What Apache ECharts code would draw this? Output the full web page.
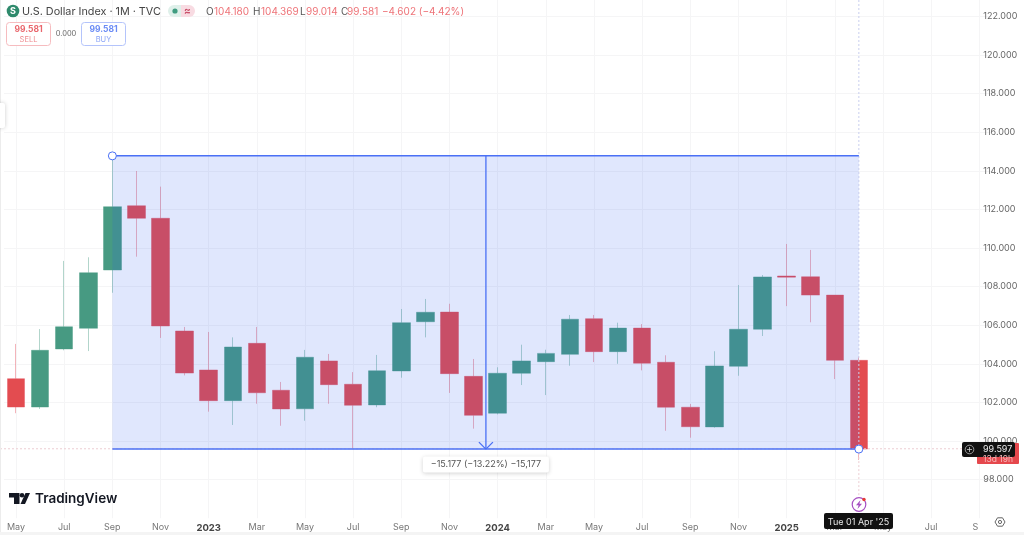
<!DOCTYPE html>
<html><head><meta charset="utf-8">
<style>html,body{margin:0;padding:0;background:#fff}#c{width:1024px;height:535px}</style>
<script src="https://cdn.jsdelivr.net/npm/echarts@6/dist/echarts.min.js"></script>
</head><body><div id="c"></div>
<script>
const months = ['2022-05','2022-06','2022-07','2022-08','2022-09','2022-10','2022-11','2022-12',
 '2023-01','2023-02','2023-03','2023-04','2023-05','2023-06','2023-07','2023-08','2023-09','2023-10','2023-11','2023-12',
 '2024-01','2024-02','2024-03','2024-04','2024-05','2024-06','2024-07','2024-08','2024-09','2024-10','2024-11','2024-12',
 '2025-01','2025-02','2025-03','2025-04','2025-05','2025-06','2025-07','2025-08','2025-09'];
const tickLabels = ['May','Jun','Jul','Aug','Sep','Oct','Nov','Dec',
 '2023','Feb','Mar','Apr','May','Jun','Jul','Aug','Sep','Oct','Nov','Dec',
 '2024','Feb','Mar','Apr','May','Jun','Jul','Aug','Sep','Oct','Nov','Dec',
 '2025','Feb','Mar','Apr','May','Jun','Jul','Aug','S   '];
const opens  = [103.23,101.76,104.77,105.84,108.86,112.19,111.54,105.70,103.68,102.09,105.06,102.63,101.67,104.15,102.94,101.87,103.63,106.18,106.68,103.35,101.44,103.51,104.11,104.49,106.34,104.63,105.85,104.08,101.75,100.73,103.87,105.79,108.55,108.51,107.56,104.18];
const closes = [101.76,104.70,105.92,108.72,112.14,111.54,105.96,103.52,102.09,104.87,102.50,101.66,104.34,102.92,101.85,103.64,106.13,106.67,103.49,101.33,103.51,104.15,104.54,106.31,104.63,105.85,104.03,101.75,100.74,103.89,105.79,108.50,108.49,107.56,104.18,99.581];
const lows   = [101.44,101.66,104.70,104.66,107.68,109.55,105.34,103.40,101.52,100.83,101.93,100.79,101.05,101.93,99.60,101.75,103.28,105.37,102.49,100.64,101.38,102.90,102.38,103.90,104.09,104.00,103.66,100.53,100.17,100.69,103.38,105.44,106.99,106.15,103.21,99.014];
const highs  = [105.03,105.80,109.33,109.52,114.78,113.99,113.18,105.91,105.65,105.37,105.91,103.06,104.72,104.51,103.57,104.46,106.84,107.36,107.11,104.25,103.82,104.99,104.73,106.53,106.53,106.13,106.06,104.44,101.92,104.65,108.08,108.60,110.21,109.90,107.56,104.369];
const priceTicks = [98,100,102,104,106,108,110,112,114,116,118,120,122];
const measureStart = 4, measureEnd = 35;
const measureTop = 114.774, measureBottom = 99.581, crossPrice = 99.597;
const measureText = '\u221215.177 (\u221213.22%) \u221215,177';

const FONT = 'Inter, "Noto Sans", sans-serif';
const BLUE = '#4a70f5';
const candles = opens.map((o,i)=>[o,closes[i],lows[i],highs[i]]);

function txt(x,y,t,fill,size,extra){
  return {type:'text',z:100,x,y,silent:true,style:Object.assign({text:t,fill,font:(size||10)+'px '+FONT,textVerticalAlign:'middle'},extra||{})};
}
function box(x,y,w,h,fill,stroke,r,extra){
  return {type:'rect',z:99,silent:true,shape:{x,y,width:w,height:h,r:r||0},style:Object.assign({fill:fill||'transparent',stroke:stroke||null,lineWidth:1},extra||{})};
}
function renderOverlay(params, api){
  const x0 = api.coord([measureStart, measureTop]);
  const x1 = api.coord([measureEnd, measureBottom]);
  const a = api.coord([19, measureTop])[0], b = api.coord([20, measureTop])[0];
  const mid = (a+b)/2 + 0.3;
  const cross = api.coord([measureEnd, crossPrice]);
  const L = (p1,p2,c,w,d,z)=>({type:'line',silent:true,z2:z||1,shape:{x1:p1[0],y1:p1[1],x2:p2[0],y2:p2[1]},style:{stroke:c,lineWidth:w,lineDash:d||null}});
  const C = (p)=>({type:'circle',z2:5,shape:{cx:p[0],cy:p[1],r:4},style:{fill:'#fff',stroke:BLUE,lineWidth:1}});
  const ly = x1[1]+15.5;
  return {type:'group',children:[
    L([0,cross[1]],[962,cross[1]],'#eccdd2',1,[2,2]),
    L([x1[0],0],[x1[0],x1[1]],'#c9cfee',1,[2,2]),
    L([x1[0],x1[1]],[x1[0],497],'#eccdd2',1,[2,2]),
    {type:'rect',z2:0,shape:{x:x0[0],y:x0[1],width:x1[0]-x0[0],height:x1[1]-x0[1]},style:{fill:'rgba(44,88,240,0.145)'}},
    L([x0[0],x0[1]],[x1[0],x0[1]],BLUE,1.5),
    L([x0[0],x1[1]],[x1[0],x1[1]],BLUE,1.5),
    L([mid,x0[1]],[mid,x1[1]],BLUE,1.3),
    L([mid-7,x1[1]-7],[mid,x1[1]],BLUE,1.3),
    L([mid+7,x1[1]-7],[mid,x1[1]],BLUE,1.3),
    C([x0[0],x0[1]]), C([x1[0],x1[1]]),
    {type:'rect',z2:6,shape:{x:mid-63,y:ly-8,width:126,height:16,r:2},style:{fill:'#fff',shadowBlur:4,shadowColor:'rgba(0,0,0,0.18)',shadowOffsetY:1}},
    {type:'text',z2:7,x:mid,y:ly,style:{text:measureText,fill:'#555',font:'9px '+FONT,textAlign:'center',textVerticalAlign:'middle'}}
  ]};
}
const chart = echarts.init(document.getElementById('c'),null,{renderer:'canvas'});
chart.setOption({
  animation:false,
  backgroundColor:'#fff',
  grid:{left:4,width:987.3,top:0,height:518.2,containLabel:false},
  xAxis:{type:'category',data:months,boundaryGap:true,
    axisLine:{show:false},axisTick:{show:false},
    splitLine:{show:true,interval:1,alignWithLabel:true,lineStyle:{color:'#f5f5f6',width:1}},
    axisLabel:{interval:1,margin:5,color:'#777',fontFamily:FONT,fontSize:9,
      formatter:(v,i)=>/^20/.test(tickLabels[i])?'{y|'+tickLabels[i]+'}':tickLabels[i],
      rich:{y:{fontWeight:'bold',color:'#444',fontSize:9.5,fontFamily:FONT}}}},
  yAxis:{type:'value',position:'right',min:96,max:122.85,interval:2,
    axisLine:{show:false},axisTick:{show:false},
    splitLine:{show:true,showMinLine:false,showMaxLine:false,lineStyle:{color:'#f5f5f6',width:1}},
    axisLabel:{inside:false,margin:-8,align:'left',color:'#666',fontFamily:FONT,fontSize:9,
      showMinLabel:false,showMaxLabel:false,
      formatter:v=>priceTicks.includes(v)?v.toFixed(3):''}},
  series:[
    {type:'candlestick',z:2,data:candles,barWidth:18,silent:true,
      itemStyle:{color:'#479a82',color0:'#e34c50',borderColor:'rgba(71,154,130,0.42)',borderColor0:'rgba(227,76,90,0.42)',borderWidth:1}},
    {type:'custom',z:5,silent:true,clip:false,coordinateSystem:'cartesian2d',data:[[measureStart,measureTop]],renderItem:renderOverlay}
  ],
  graphic:[
    box(0,0,1,535,'#ececec'), box(0,532,1024,3,'#f4f4f4'),
    box(-2,103,7,25,'#fff',null,2,{shadowBlur:4,shadowColor:'rgba(0,0,0,0.2)'}),
    {type:'circle',z:99,silent:true,shape:{cx:13,cy:11,r:6.3},style:{fill:'#2f8a6c'}},
    txt(13,11.3,'S','#fff',9,{textAlign:'center',font:'bold 9px '+FONT}),
    txt(22,11.5,'U.S. Dollar Index \u00b7 1M \u00b7 TVC','#444',10.8),
    box(168,5,13,12,'#dff0ea',null,[6,0,0,6]), box(181,5,14,12,'#f8dbe2',null,[0,6,6,0]),
    {type:'circle',z:100,silent:true,shape:{cx:175,cy:11,r:2.6},style:{fill:'#3f9c80'}},
    txt(187.5,11,'\u2248','#c9506a',10,{textAlign:'center',font:'bold 10px '+FONT}),
    txt(206,11.5,'O','#555',10), txt(214,11.5,'104.180','#ee7378',10),
    txt(253,11.5,'H','#555',10), txt(261,11.5,'104.369','#ee7378',10),
    txt(300,11.5,'L','#555',10), txt(306,11.5,'99.014','#ee7378',10),
    txt(341,11.5,'C','#555',10), txt(347,11.5,'99.581','#ee7378',10),
    txt(382,11.5,'\u22124.602 (\u22124.42%)','#ee7378',10),
    box(6.5,22.5,44,23,'#fff','#f6bcbf',3),
    txt(28.5,29.5,'99.581','#e9666c',8.5,{textAlign:'center',font:'bold 8.5px '+FONT}),
    txt(28.5,39.5,'SELL','#ee8c90',7.5,{textAlign:'center'}),
    txt(66,33.5,'0.000','#666',7.5,{textAlign:'center'}),
    box(81.5,22.5,44,23,'#fff','#b4c4fb',3),
    txt(103.5,29.5,'99.581','#6a8bf5',8.5,{textAlign:'center',font:'bold 8.5px '+FONT}),
    txt(103.5,39.5,'BUY','#8aa4f7',7.5,{textAlign:'center'}),
    {type:'polygon',z:100,silent:true,shape:{points:[[9,493],[19.5,493],[19.5,504],[14,504],[14,497.5],[9,497.5]]},style:{fill:'#131722'}},
    {type:'circle',z:100,silent:true,shape:{cx:22,cy:495.3,r:2.3},style:{fill:'#131722'}},
    {type:'polygon',z:100,silent:true,shape:{points:[[25.5,493],[30,493],[25,504],[20.5,504]]},style:{fill:'#131722'}},
    txt(35,498.5,'TradingView','#131722',13.5,{font:'600 13.5px '+FONT}),
    box(977,443,42,21,'#e5484d',null,1),
    txt(998,459,'13d 19h','#f7b9bb',8.5,{textAlign:'center'}),
    box(962,442,53,15,'#111',null,2),
    {type:'circle',z:100,silent:true,shape:{cx:969.5,cy:449.5,r:4.3},style:{fill:'none',stroke:'#bbb',lineWidth:0.8}},
    {type:'line',z:100,silent:true,shape:{x1:967,y1:449.5,x2:972,y2:449.5},style:{stroke:'#ccc',lineWidth:0.8}},
    {type:'line',z:100,silent:true,shape:{x1:969.5,y1:447,x2:969.5,y2:452},style:{stroke:'#ccc',lineWidth:0.8}},
    txt(983,449.7,'99.597','#eee',9),
    {type:'circle',z:100,silent:true,shape:{cx:859,cy:504.5,r:6.8},style:{fill:'#fff',stroke:'#a64fc2',lineWidth:1.2}},
    {type:'polygon',z:101,silent:true,shape:{points:[[860.5,500],[856,505.2],[858.6,505.2],[857.5,509],[862,503.8],[859.4,503.8]]},style:{fill:'#a64fc2'}},
    {type:'circle',z:102,silent:true,shape:{cx:864,cy:499.5,r:1.7},style:{fill:'#e53935'}},
    box(824,513,69,16,'#111',null,2),
    txt(858.5,522,"Tue 01 Apr '25",'#e8e8e8',9,{textAlign:'center'}),
    {type:'polygon',z:100,silent:true,shape:{points:[[995,522],[997.5,517.8],[1002.5,517.8],[1005,522],[1002.5,526.2],[997.5,526.2]]},style:{fill:'none',stroke:'#555',lineWidth:0.9}},
    {type:'circle',z:100,silent:true,shape:{cx:1000,cy:522,r:1.6},style:{fill:'none',stroke:'#555',lineWidth:0.9}}
  ]
});
</script></body></html>
